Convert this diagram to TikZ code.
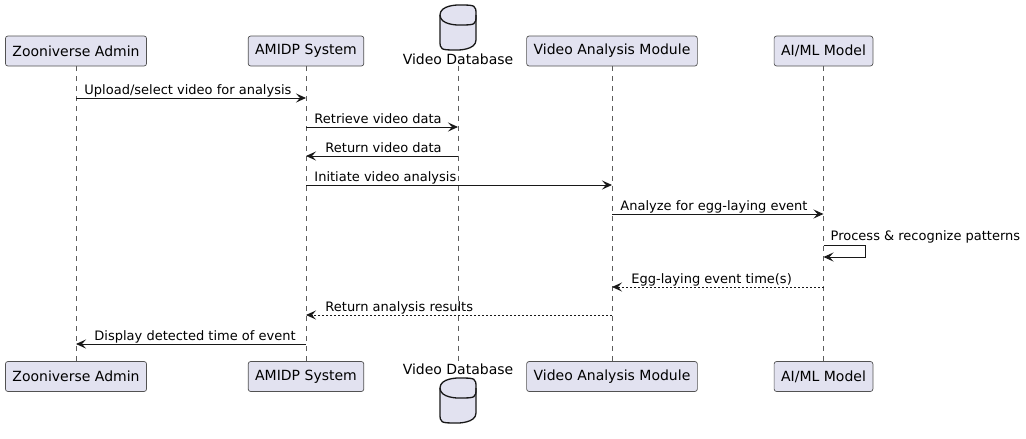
\documentclass[tikz,border=0pt]{standalone}
\usepackage{fontspec}
\setmainfont{DejaVu Sans}
\usetikzlibrary{arrows.meta}
\definecolor{umlfill}{HTML}{E2E2F0}
\definecolor{umlline}{HTML}{181818}

\begin{document}
\begin{tikzpicture}[x=1pt, y=-1pt,
    font=\fontsize{13}{15}\selectfont,
    part/.style={draw=umlline!75, fill=umlfill, line width=0.7pt, rounded corners=2.5pt,
                 font=\fontsize{14}{16}\selectfont,
                 minimum height=30pt, inner xsep=7pt, inner ysep=0pt},
    dblabel/.style={inner sep=1pt, font=\fontsize{14}{16}\selectfont},
    life/.style={draw=umlline!70, line width=0.6pt, dash pattern=on 5pt off 5pt},
    msg/.style={draw=umlline, line width=0.9pt, -{Stealth[length=10pt, width=9pt, inset=4pt]}},
    reply/.style={msg, dash pattern=on 2pt off 2pt},
    lbl/.style={anchor=base west, inner sep=0pt, text=black}]

    \useasboundingbox[fill=white] (0,0) rectangle (1026,439);

    % Participants (top)
    \node[part] (zooT)   at (76,51)    {Zooniverse Admin};
    \node[part] (amidpT) at (306,51)   {AMIDP System};
    \node[dblabel] (dbT) at (458,59)   {Video Database};
    \node[part] (vamT)   at (612,51)   {Video Analysis Module};
    \node[part] (aimlT)  at (823.5,51) {AI/ML Model};

    % Participants (bottom)
    \node[part] (zooB)   at (76,376.5)    {Zooniverse Admin};
    \node[part] (amidpB) at (306,376.5)   {AMIDP System};
    \node[dblabel] (dbB) at (458,369)     {Video Database};
    \node[part] (vamB)   at (612,376.5)   {Video Analysis Module};
    \node[part] (aimlB)  at (823.5,376.5) {AI/ML Model};

    % Database cylinders
    \foreach \y in {5,378} {
        \filldraw[fill=umlfill, draw=umlline, line width=1.3pt]
            (440,\y+10) .. controls (440,\y) and (458,\y) .. (458,\y)
            .. controls (476,\y) and (476,\y) .. (476,\y+10) -- (476,\y+35)
            .. controls (476,\y+45) and (458,\y+45) .. (458,\y+45)
            .. controls (440,\y+45) and (440,\y+45) .. (440,\y+35) -- cycle;
        \draw[draw=umlline, line width=1.3pt]
            (440,\y+10) .. controls (440,\y+20) and (458,\y+20) .. (458,\y+20)
            .. controls (476,\y+20) and (476,\y+20) .. (476,\y+10);
    }

    % Lifelines
    \draw[life] (zooT) -- (zooB);
    \draw[life] (amidpT) -- (amidpB);
    \draw[life] (dbT) -- (dbB);
    \draw[life] (vamT) -- (vamB);
    \draw[life] (aimlT) -- (aimlB);

    % Message rows
    \coordinate (m1) at (0,98);
    \coordinate (m2) at (0,127);
    \coordinate (m3) at (0,156);
    \coordinate (m4) at (0,185);
    \coordinate (m5) at (0,214);
    \coordinate (m6) at (0,245);
    \coordinate (m6b) at (0,257);
    \coordinate (m7) at (0,287);
    \coordinate (m8) at (0,315);
    \coordinate (m9) at (0,344);

    % Messages
    \draw[msg] (zooT |- m1) -- (amidpT |- m1)
        node[lbl, pos=0, xshift=8pt, yshift=4pt] (l1) {Upload/select video for analysis};
    \draw[msg] (amidpT |- m2) -- (dbT |- m2)
        node[lbl, pos=0, xshift=8pt, yshift=4pt] (l2) {Retrieve video data};
    \draw[msg] (dbT |- m3) -- (amidpT |- m3)
        node[lbl, pos=1, xshift=19pt, yshift=4pt] (l3) {Return video data};
    \draw[msg] (amidpT |- m4) -- (vamT |- m4)
        node[lbl, pos=0, xshift=8pt, yshift=4pt] (l4) {Initiate video analysis};
    \draw[msg] (vamT |- m5) -- (aimlT |- m5)
        node[lbl, pos=0, xshift=8pt, yshift=4pt] (l5) {Analyze for egg-laying event};
    \draw[msg] (aimlT |- m6) -| ([xshift=42pt]aimlT |- m6b) -- (aimlT |- m6b);
    \node[lbl] (l6) at ([xshift=7pt, yshift=5pt]aimlT |- m6) {Process \& recognize patterns};
    \draw[reply] (aimlT |- m7) -- (vamT |- m7)
        node[lbl, pos=1, xshift=19pt, yshift=4pt] (l7) {Egg-laying event time(s)};
    \draw[reply] (vamT |- m8) -- (amidpT |- m8)
        node[lbl, pos=1, xshift=19pt, yshift=4pt] (l8) {Return analysis results};
    \draw[msg] (amidpT |- m9) -- (zooT |- m9)
        node[lbl, pos=1, xshift=18pt, yshift=4pt] (l9) {Display detected time of event};

\end{tikzpicture}
\end{document}
